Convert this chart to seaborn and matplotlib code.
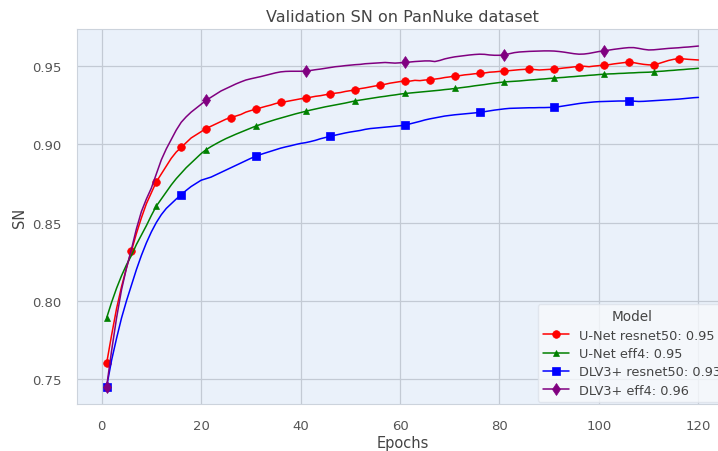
import numpy as np
import pandas as pd
import matplotlib
matplotlib.use("Agg")
import matplotlib.pyplot as plt
import seaborn as sns

epochs = list(range(1, 121))

unet_resnet50 = [
    .760, .778, .795, .809, .821, .832, .843, .853, .862, .869,
    .876, .881, .886, .891, .895, .898, .901, .904, .906, .908,
    .910, .9115, .913, .9145, .916, .917, .918, .919, .9205, .9215,
    .9224, .9233, .9242, .925, .926, .9267, .9272, .9278, .9284, .929,
    .9294, .930, .9306, .931, .9316, .932, .9326, .933, .9337, .9342,
    .9347, .9355, .936, .9366, .9372, .9377, .9383, .939, .9395, .940,
    .9405, .9403, .9408, .9406, .941, .9411, .9416, .942, .9426, .943,
    .9436, .9438, .9443, .9446, .945, .9452, .9455, .946, .9462, .9465,
    .9468, .947, .9473, .9476, .9478, .9479, .9477, .9474, .9476, .9478,
    .9479, .9483, .9487, .949, .9494, .9496, .9498, .9495, .9499, .9502,
    .9504, .9508, .9513, .9517, .9521, .9525, .9521, .9515, .951, .9507,
    .9506, .9515, .9525, .9535, .9542, .9547, .9545, .9542, .954, .9538,
]

unet_eff4 = [
    .789, .799, .808, .816, .823, .829, .836, .842, .848, .8545,
    .8605, .865, .8695, .874, .878, .8815, .885, .888, .891, .894,
    .8965, .8985, .9003, .902, .9036, .905, .9064, .9077, .909, .9103,
    .9116, .9127, .9138, .9148, .9158, .9167, .9176, .9185, .9194, .9202,
    .921, .9218, .9225, .9232, .9239, .9245, .9251, .9257, .9263, .927,
    .9277, .9282, .9287, .9292, .9297, .9302, .9306, .9311, .9315, .932,
    .9324, .9327, .933, .9333, .9336, .9339, .9342, .9345, .9349, .9352,
    .9356, .936, .9364, .9368, .9373, .9377, .9381, .9386, .939, .9394,
    .9398, .940, .9402, .9404, .9407, .941, .9412, .9415, .9417, .942,
    .9422, .9425, .9427, .943, .9432, .9435, .9437, .944, .9442, .9445,
    .9447, .9449, .945, .9452, .9453, .9455, .9456, .9458, .9459, .946,
    .9462, .9465, .9467, .947, .9472, .9475, .9477, .948, .9482, .9485,
]

dlv3_resnet50 = [
    .745, .762, .776, .789, .800, .810, .820, .829, .837, .844,
    .850, .855, .859, .862, .865, .8678, .8705, .873, .875, .877,
    .878, .879, .8805, .882, .8835, .885, .8865, .888, .8895, .891,
    .8923, .8935, .8945, .8955, .8965, .8975, .8983, .899, .8998, .9005,
    .901, .9017, .9025, .9035, .9043, .905, .9058, .9065, .9072, .9078,
    .9083, .9088, .9095, .910, .9103, .9106, .9109, .9112, .9115, .9118,
    .9122, .913, .9138, .9146, .9155, .9162, .9168, .9174, .918, .9184,
    .9188, .9191, .9194, .9197, .920, .9203, .9208, .9213, .9218, .9222,
    .9226, .9229, .923, .9231, .9232, .9233, .9233, .9234, .9234, .9235,
    .9235, .924, .9245, .925, .9255, .926, .9264, .9267, .927, .9272,
    .9273, .9274, .9275, .9276, .9276, .9277, .9275, .9273, .9274, .9276,
    .9278, .928, .9282, .9284, .9286, .9288, .9291, .9294, .9297, .9299,
]

dlv3_eff4 = [
    .745, .768, .789, .807, .821, .833, .846, .857, .865, .872,
    .881, .890, .897, .903, .909, .914, .9175, .9205, .923, .9255,
    .928, .930, .932, .934, .9355, .937, .9385, .9398, .941, .9418,
    .9425, .9432, .944, .9448, .9456, .9462, .9465, .9466, .9466, .9466,
    .9467, .9471, .9476, .948, .9485, .949, .9495, .9498, .9502, .9505,
    .9508, .951, .9514, .9516, .9518, .952, .9522, .952, .9518, .952,
    .9522, .9525, .9528, .953, .9532, .9532, .9528, .9535, .9545, .9552,
    .9558, .9562, .9566, .957, .9573, .9575, .9574, .957, .9568, .9568,
    .957, .9578, .9585, .9589, .9591, .9593, .9594, .9595, .9596, .9596,
    .9595, .9592, .9588, .9583, .9578, .9575, .9576, .958, .9586, .9592,
    .9596, .9601, .9606, .961, .9614, .9617, .9617, .9612, .9606, .9602,
    .9603, .9606, .9609, .9612, .9614, .9616, .9619, .9621, .9624, .9627,
]

labels = ["U-Net resnet50: 0.95", "U-Net eff4: 0.95",
          "DLV3+ resnet50: 0.93", "DLV3+ eff4: 0.96"]
series = [unet_resnet50, unet_eff4, dlv3_resnet50, dlv3_eff4]
colors = ["red", "green", "blue", "purple"]
markers = ["o", "^", "s", "d"]
mark_every = [5, 10, 15, 20]
marker_sizes = [5.5, 5, 5.5, 6]

sns.set_theme(style="darkgrid", rc={
    "axes.facecolor": "#EAF1FA",
    "grid.color": "#C3CAD4",
    "grid.linewidth": 0.9,
    "axes.edgecolor": "#CCD3DC",
    "axes.linewidth": 0.8,
})
plt.rcParams['font.family'] = ['DejaVu Sans']

fig = plt.figure(figsize=(7.18, 4.52), dpi=100)
ax = fig.add_axes([77 / 718, 47 / 452, 651 / 718, 375 / 452])
for sp in ax.spines.values():
    sp.set_visible(True)

for vals, lab, col, mk, me, ms in zip(series, labels, colors, markers,
                                       mark_every, marker_sizes):
    df = pd.DataFrame({"Epochs": epochs, "SN": vals})
    sns.lineplot(data=df, x="Epochs", y="SN", color=col, marker=mk,
                 markevery=me, markersize=ms, markeredgewidth=0.5,
                 markeredgecolor=col, linewidth=1.1, label=lab, ax=ax)

ax.set_xticks([0, 20, 40, 60, 80, 100, 120])
ax.set_yticks([0.75, 0.80, 0.85, 0.90, 0.95])
ax.set_yticklabels(["0.75", "0.80", "0.85", "0.90", "0.95"])
ax.tick_params(labelsize=9.5, labelcolor="#555555", pad=5)
ax.set_xlabel("Epochs", fontsize=10.5, color="#444444", labelpad=2)
ax.set_ylabel("SN", fontsize=10.5, color="#444444")
ax.set_title("Validation SN on PanNuke dataset", fontsize=11.5,
             color="#444444", pad=6)

leg = ax.legend(title="Model", loc="lower right", fontsize=9.3,
                title_fontsize=9.8, frameon=True, framealpha=0.8,
                borderaxespad=0.15, labelspacing=0.42)
leg.get_frame().set_facecolor("#F7F9FC")
leg.get_frame().set_edgecolor("#DDE2EA")
for t in leg.get_texts():
    t.set_color("#444444")
leg.get_title().set_color("#444444")

fig.savefig("out.png", dpi=100)
